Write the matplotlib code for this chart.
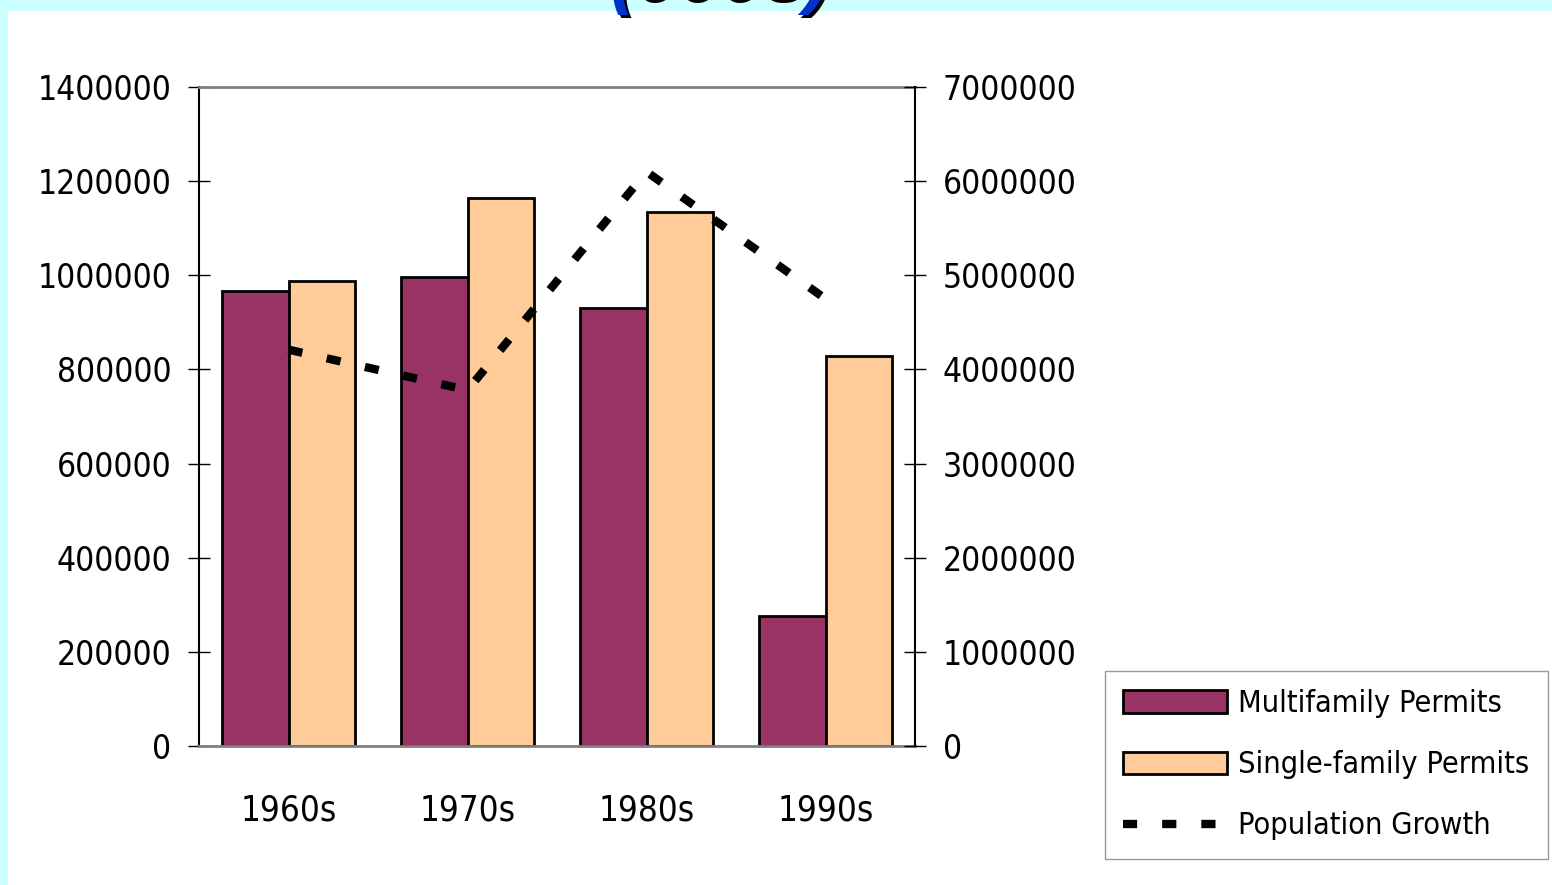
import matplotlib.pyplot as plt
from matplotlib.patches import Rectangle
import numpy as np

decades = ["1960s", "1970s", "1980s", "1990s"]
multifamily = [966000, 996000, 930000, 276000]
single_family = [988000, 1164000, 1134000, 828000]
population = [4210000, 3780000, 6100000, 4750000]

plt.rcParams["font.family"] = ["DejaVu Sans"]
plt.rcParams["font.stretch"] = "condensed"

fig = plt.figure(figsize=(15.52, 8.85), dpi=100, facecolor="#CCFFFF")
fig.patches.append(Rectangle((8 / 1552, 0), 1, 1 - 11 / 885, transform=fig.transFigure,
                             facecolor="white", edgecolor="none", zorder=-5))

# title, mostly off the top of the picture (as in the original slide)
fig.text(0.4655, 1 - 2 / 885, "(000s)", fontsize=55, fontweight="bold", style="italic",
         color="black", ha="center", va="baseline", family="Liberation Sans")
fig.text(0.4635, 1 + 1 / 885, "(000s)", fontsize=55, fontweight="bold", style="italic",
         color="#0033CC", ha="center", va="baseline", family="Liberation Sans")

ax = fig.add_axes([199 / 1552, 1 - 746 / 885, (915 - 199) / 1552, (746 - 87) / 885])
ax.set_facecolor("none")
x = np.arange(len(decades))
w = 0.37
ax.bar(x - w / 2, multifamily, w, color="#993366", edgecolor="black", linewidth=2,
       label="Multifamily Permits")
ax.bar(x + w / 2, single_family, w, color="#FFCC99", edgecolor="black", linewidth=2,
       label="Single-family Permits")
ax.set_xlim(-0.5, 3.5)
ax.set_ylim(0, 1400000)
ax.set_yticks(np.arange(0, 1400001, 200000))
ax.ticklabel_format(axis="y", style="plain", useOffset=False)
ax.set_xticks(x)
ax.set_xticklabels(decades)
ax.tick_params(axis="y", direction="inout", length=16, width=1, labelsize=24, pad=12)
ax.tick_params(axis="x", length=0, labelsize=25, pad=34)
for s in ["top", "bottom"]:
    ax.spines[s].set_color("#808080")
    ax.spines[s].set_linewidth(2)
ax.spines["left"].set_linewidth(1.5)
ax.spines["right"].set_visible(False)

ax2 = ax.twinx()
ax2.plot(x, population, color="black", linewidth=6, dashes=(1.7, 3.0),
         label="Population Growth", dash_capstyle="butt")
ax2.set_ylim(0, 7000000)
ax2.set_yticks(np.arange(0, 7000001, 1000000))
ax2.ticklabel_format(axis="y", style="plain", useOffset=False)
ax2.tick_params(axis="y", direction="inout", length=16, width=1, labelsize=24, pad=12)
for s in ["top", "bottom", "left"]:
    ax2.spines[s].set_visible(False)
ax2.spines["right"].set_linewidth(1.5)

h1, l1 = ax.get_legend_handles_labels()
h2, l2 = ax2.get_legend_handles_labels()
leg = fig.legend(h1 + h2, l1 + l2, loc="upper left",
                 bbox_to_anchor=(1105 / 1552, 1 - 671 / 885), fontsize=22,
                 frameon=True, fancybox=False, edgecolor="#808080", handlelength=3.4,
                 handleheight=0.75, labelspacing=1.05, borderpad=0.6, handletextpad=0.35,
                 borderaxespad=0)
leg.get_frame().set_linewidth(1)

fig.savefig("out.png", dpi=100, facecolor=fig.get_facecolor())
